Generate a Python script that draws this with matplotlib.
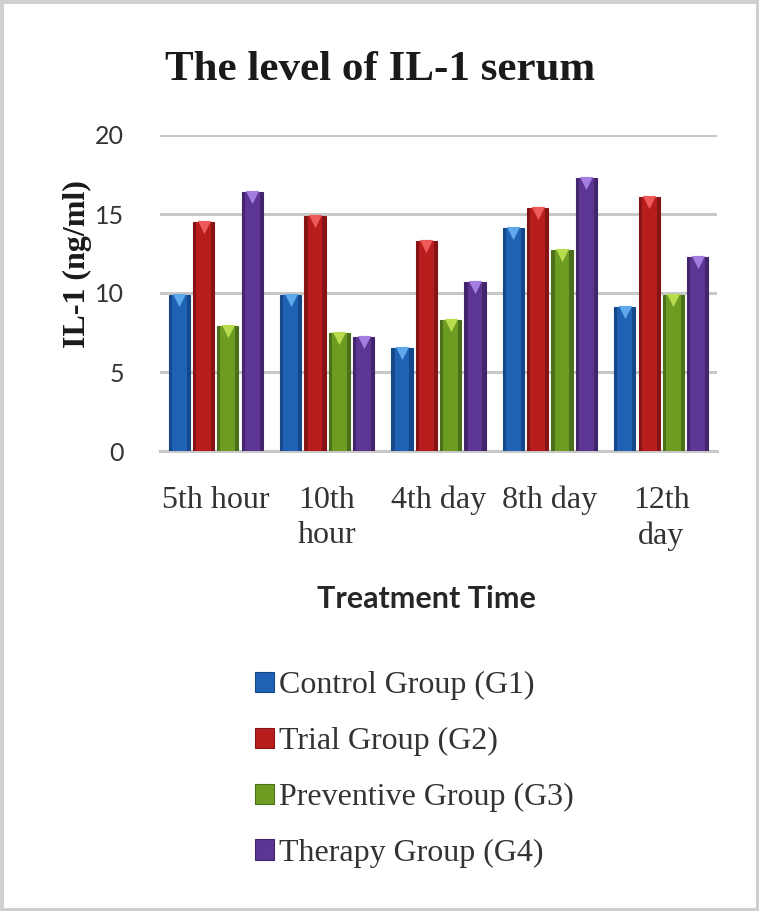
import matplotlib
matplotlib.use("Agg")
import matplotlib.pyplot as plt
import numpy as np
from matplotlib.patches import Rectangle, Patch

categories = ["5th hour", "10th\nhour", "4th day", "8th day", "12th\nday"]
series_names = ["Control Group (G1)", "Trial Group (G2)",
                "Preventive Group (G3)", "Therapy Group (G4)"]
control = [9.9, 9.9, 6.5, 14.1, 9.1]
trial = [14.5, 14.9, 13.3, 15.4, 16.1]
preventive = [7.9, 7.5, 8.3, 12.7, 9.9]
therapy = [16.4, 7.2, 10.7, 17.3, 12.3]
yticks = [0, 5, 10, 15, 20]

colors = ["#1f62b3", "#b81d1d", "#6c9d22", "#5c3692"]
darks = ["#15488a", "#871414", "#4c701a", "#42256c"]
lights = ["#5fa8ec", "#ee5a5a", "#b8dc4e", "#a57fe0"]

W, H = 759, 911
fig = plt.figure(figsize=(W / 100, H / 100), dpi=100)
fig.patch.set_facecolor("white")
fig.add_artist(Rectangle((0, 0), 1, 1, transform=fig.transFigure,
                         facecolor="none", edgecolor="#cfcfcf", linewidth=5))

ax = fig.add_axes([160 / W, 1 - 451 / H, 557 / W, 316 / H])
x = np.arange(len(categories))
bw = 0.19
pitch = 0.218
data = [control, trial, preventive, therapy]
handles = []
for i, (vals, c, d, l, name) in enumerate(zip(data, colors, darks, lights, series_names)):
    xp = x + (i - 1.5) * pitch
    ax.bar(xp, vals, width=bw, color=d, edgecolor=d, linewidth=0.8, zorder=3)
    ax.bar(xp, vals, width=bw * 0.7, color=c, linewidth=0, zorder=4)
    ax.scatter(xp, np.array(vals) - 0.32, marker="v", s=90, color=l,
               linewidths=0, zorder=5)
    handles.append(Patch(facecolor=c, edgecolor=d, linewidth=0.8))

ax.set_xlim(-0.5, len(categories) - 0.5)
ax.set_ylim(0, 20)
ax.set_yticks(yticks)
ax.yaxis.grid(True, color="#c8c8c8", linewidth=2.2, zorder=0)
ax.set_axisbelow(True)
for s in ["top", "right", "left"]:
    ax.spines[s].set_visible(False)
ax.spines["bottom"].set_color("#c8c8c8")
ax.spines["bottom"].set_linewidth(2.2)
ax.tick_params(axis="both", length=0)
ax.tick_params(axis="y", pad=26, labelsize=18, labelcolor="#333333")
ax.tick_params(axis="x", pad=25, labelsize=23, labelcolor="#333333")
for t in ax.get_yticklabels():
    t.set_family("Lato")
ax.set_xticks(x)
ax.set_xticklabels(categories, family="Liberation Serif", linespacing=1.3)

fig.text(380 / W, 1 - 70 / H, "The level of IL-1 serum", ha="center", va="center",
         fontsize=31, fontweight="bold", family="Liberation Serif", color="#1a1a1a")
fig.text(77 / W, 1 - 264 / H, "IL-1 (ng/ml)", ha="center", va="center", rotation=90,
         fontsize=23, fontweight="bold", family="Liberation Serif", color="#1a1a1a")
fig.text(426 / W, 1 - 599 / H, "Treatment Time", ha="center", va="center",
         fontsize=22, fontweight="bold", family="Lato", color="#262626")

leg = fig.legend(handles=handles, labels=series_names, loc="upper left",
                 bbox_to_anchor=(255 / W, 1 - 671 / H), frameon=False,
                 prop={"family": "Liberation Serif", "size": 23},
                 handlelength=0.6, handleheight=0.6, handletextpad=0.15,
                 labelspacing=0.84, borderpad=0, borderaxespad=0)
for t in leg.get_texts():
    t.set_color("#333333")

fig.savefig("out.png", dpi=100)
